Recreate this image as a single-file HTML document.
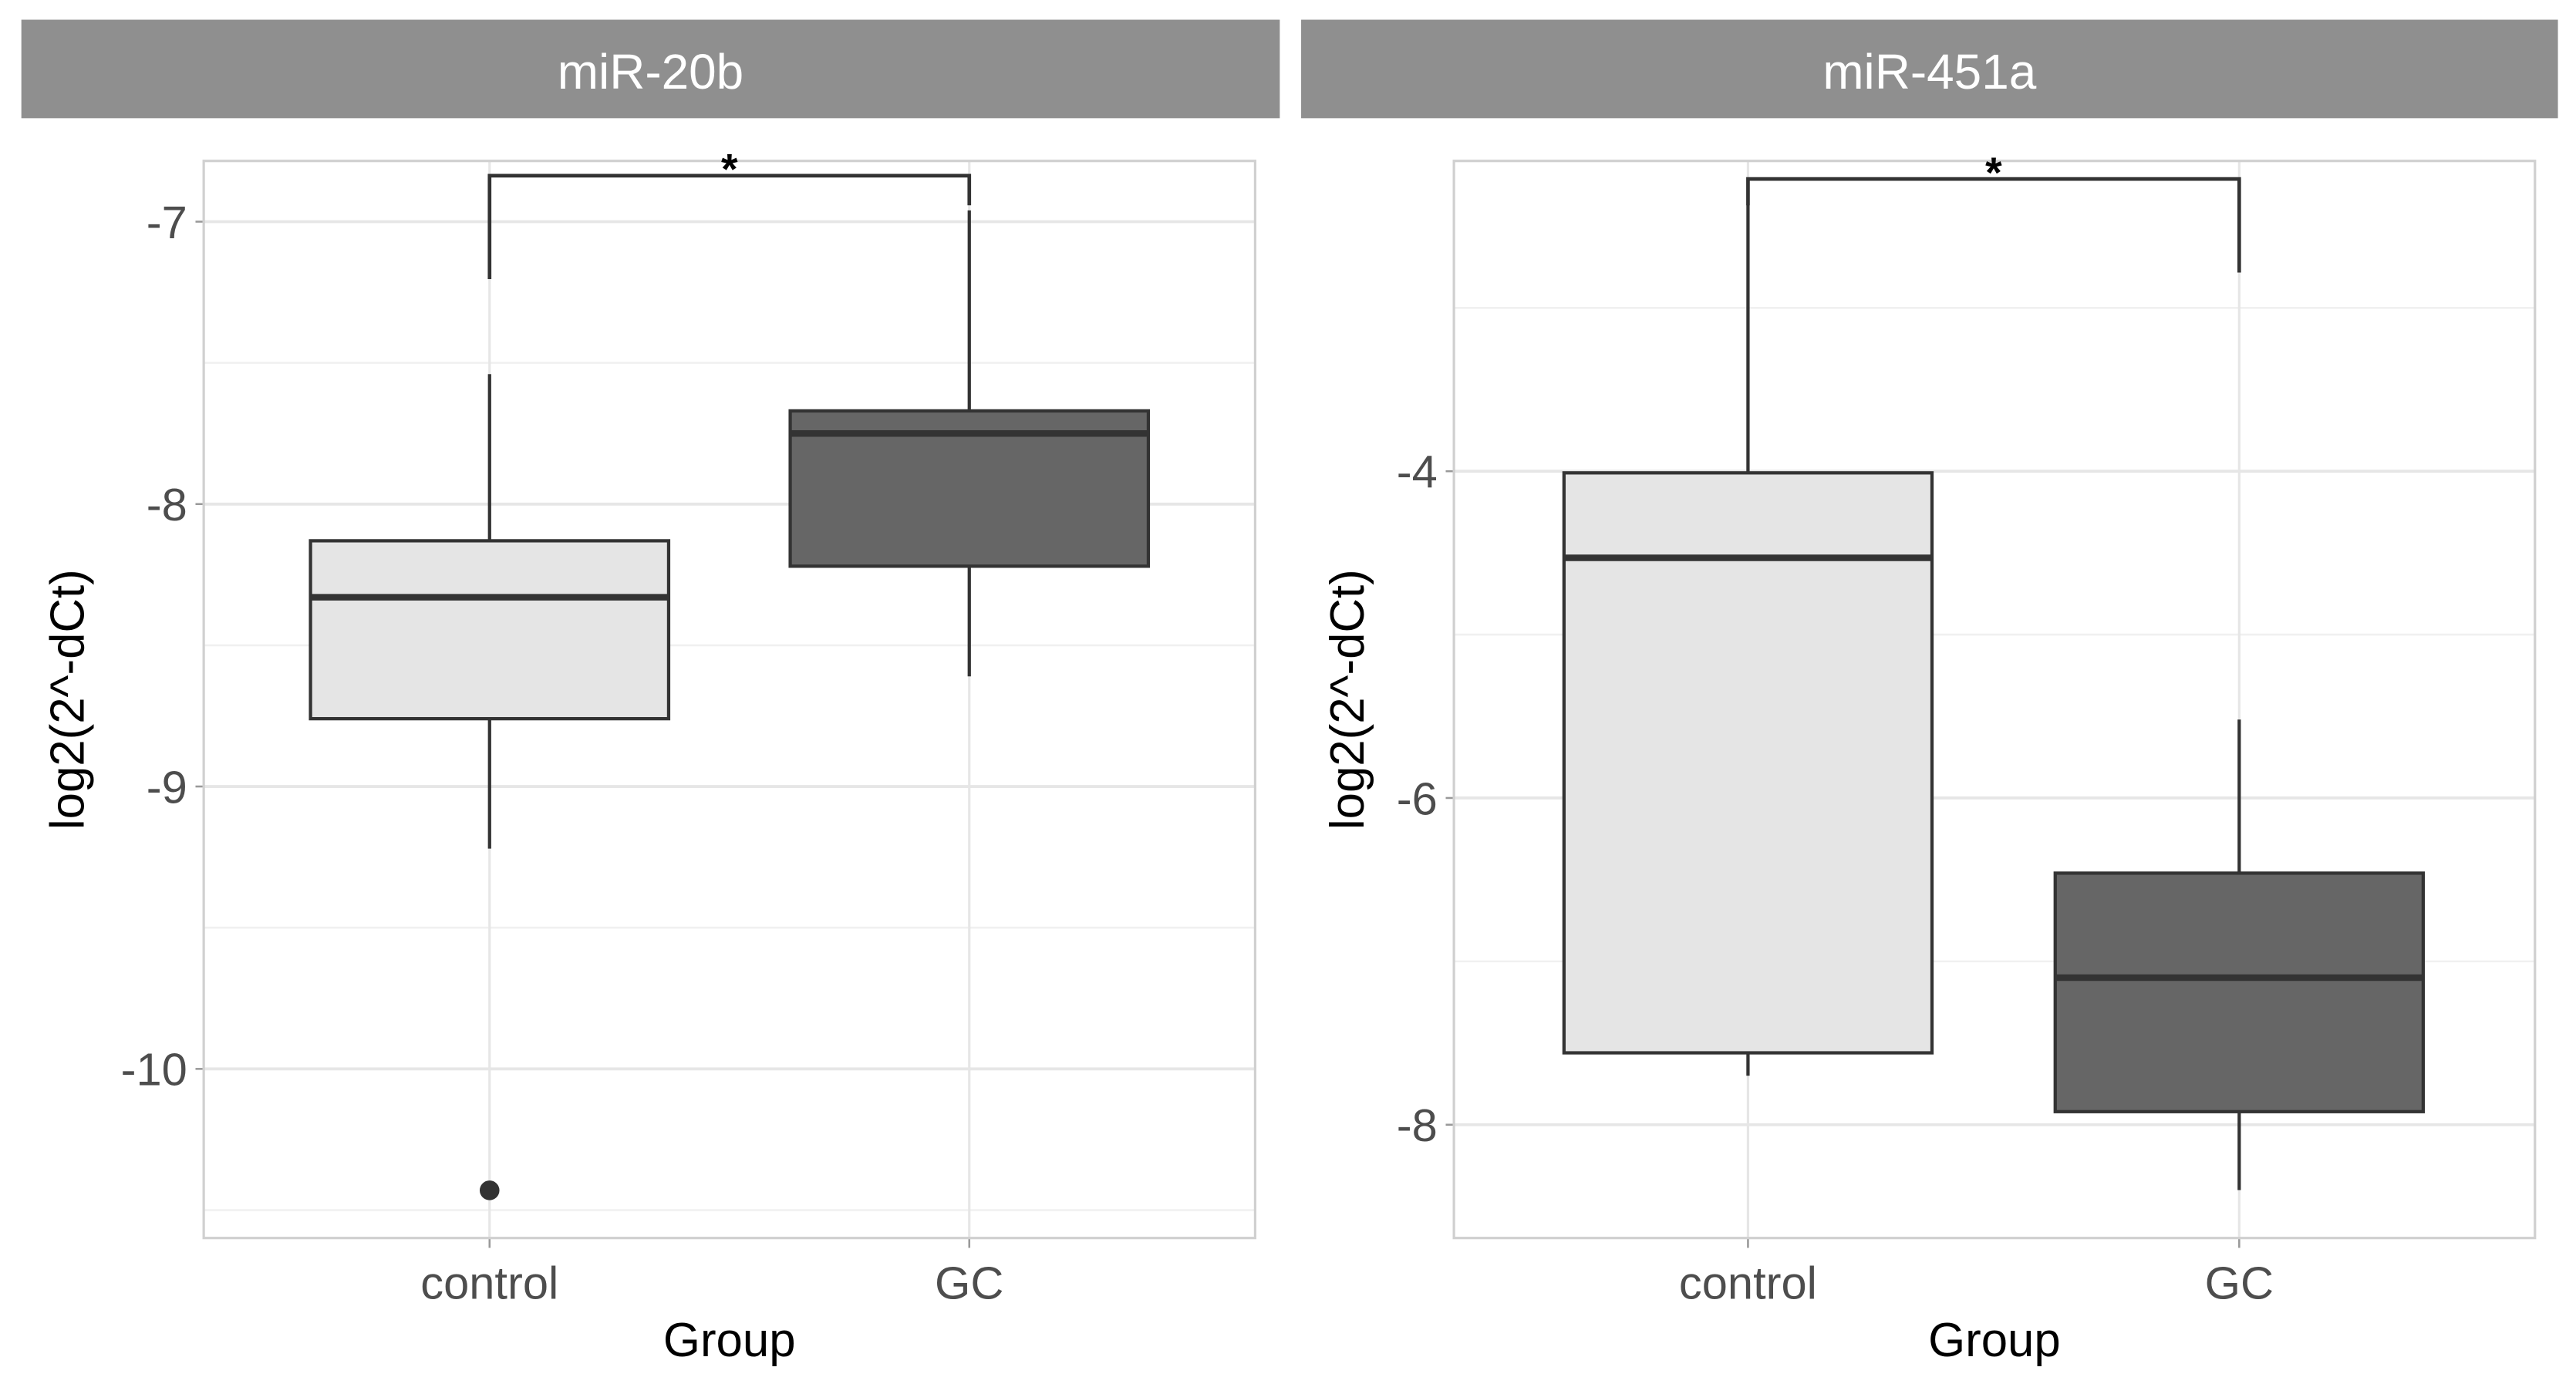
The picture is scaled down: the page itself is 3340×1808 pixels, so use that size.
<!DOCTYPE html>
<html><head><meta charset="utf-8"><style>
html,body{margin:0;padding:0;background:#fff}
svg{display:block}
text{font-family:"Liberation Sans",sans-serif}
</style></head><body>
<svg id="chart" width="3340" height="1808" viewBox="0 0 1568 849" preserveAspectRatio="none" xmlns="http://www.w3.org/2000/svg"></svg>
<script>
const groups = ["control", "GC"];
const p1Ticks = [-7, -8, -9, -10];
const p1Minor = [-7.5, -8.5, -9.5, -10.5];
const p1Control = [-9.22, -8.76, -8.33, -8.13, -7.54];
const p1GC = [-8.61, -8.22, -7.75, -7.67, -6.96];
const p1Outliers = [-10.43];
const p2Ticks = [-4, -6, -8];
const p2Minor = [-3, -5, -7];
const p2Control = [-7.70, -7.56, -4.53, -4.01, -2.37];
const p2GC = [-8.40, -7.92, -7.10, -6.46, -5.52];
const p2Outliers = [];

const NS = "http://www.w3.org/2000/svg";
const svg = document.getElementById("chart");
function el(tag, attrs, parent) {
  const e = document.createElementNS(NS, tag);
  for (const k in attrs) e.setAttribute(k, attrs[k]);
  (parent || svg).appendChild(e);
  return e;
}

function panel(cfg) {
  const g = el("g", {});
  
  
  const strip = el("rect", {x: cfg.sx, y: 12, width: cfg.sw, height: 60, fill: "#8f8f8f"}, g);
  
  
  const st = el("text", {x: cfg.sx + cfg.sw / 2, y: 54, "text-anchor": "middle", "font-size": 30, fill: "#fff"}, g);
  st.textContent = cfg.title;
  
  

  const L = cfg.L, R = cfg.R, T = 98, B = 754;
  const y = v => cfg.y0 + (v - cfg.v0) * cfg.k;
  const xs = [cfg.xc, cfg.xg];
  cfg.minor.forEach(v => { el("line", {x1: L, x2: R, y1: y(v), y2: y(v), stroke: "#f0f0f0", "stroke-width": 1.2}, g); });
  cfg.ticks.forEach(v => {
    const ln = el("line", {x1: L, x2: R, y1: y(v), y2: y(v), stroke: "#e6e6e6", "stroke-width": 1.8}, g);
    
    
    el("line", {x1: L - 5, x2: L, y1: y(v), y2: y(v), stroke: "#999", "stroke-width": 1.2}, g);
    const t = el("text", {x: L - 10, y: y(v) + 10, "text-anchor": "end", "font-size": 28, fill: "#4d4d4d"}, g);
    t.textContent = String(v);
    
    
  });
  xs.forEach((x, i) => {
    el("line", {x1: x, x2: x, y1: T, y2: B, stroke: "#e6e6e6", "stroke-width": 1.5}, g);
    el("line", {x1: x, x2: x, y1: B, y2: B + 6, stroke: "#999", "stroke-width": 1.2}, g);
    const t = el("text", {x: x, y: 791, "text-anchor": "middle", "font-size": 28, fill: "#4d4d4d"}, g);
    t.textContent = groups[i];
    
    
  });
  el("rect", {x: L, y: T, width: R - L, height: B - T, fill: "none", stroke: "#d0d0d0", "stroke-width": 1.5}, g);

  const series = [cfg.control, cfg.gc];
  const fills = ["#e5e5e5", "#666666"];
  series.forEach((s, i) => {
    const x = xs[i], hw = cfg.hw;
    const wl = el("line", {x1: x, x2: x, y1: y(s[4]), y2: y(s[3]), stroke: "#333", "stroke-width": 2}, g);
    
    
    const wl2 = el("line", {x1: x, x2: x, y1: y(s[1]), y2: y(s[0]), stroke: "#333", "stroke-width": 2}, g);
    
    
    const box = el("rect", {x: x - hw, y: y(s[3]), width: 2 * hw, height: y(s[1]) - y(s[3]), fill: fills[i], stroke: "#333", "stroke-width": 2}, g);
    
    
    const md = el("line", {x1: x - hw, x2: x + hw, y1: y(s[2]), y2: y(s[2]), stroke: "#333", "stroke-width": 4}, g);
    
    
  });
  cfg.outliers.forEach(v => {
    const c = el("circle", {cx: xs[0], cy: y(v), r: 6, fill: "#333"}, g);
    
    
  });
  const bg = el("g", {}, g);
  
  
  el("polyline", {points: `${xs[0]},${cfg.legC} ${xs[0]},${cfg.by} ${xs[1]},${cfg.by} ${xs[1]},${cfg.legG}`, fill: "none", stroke: "#333", "stroke-width": 2.2}, bg);
  const star = el("text", {x: (xs[0] + xs[1]) / 2, y: cfg.by + 5, "text-anchor": "middle", "font-size": 26, "font-weight": "bold", fill: "#000"}, bg);
  star.textContent = "*";

  const yt = el("text", {transform: `translate(${cfg.ytx},426) rotate(-90)`, "text-anchor": "middle", "font-size": 29, fill: "#000"}, g);
  yt.textContent = "log2(2^-dCt)";
  
  
  const xt = el("text", {x: (L + R) / 2, y: 826, "text-anchor": "middle", "font-size": 29, fill: "#000"}, g);
  xt.textContent = "Group";
  
  
}

panel({name: "mir-20b", title: "miR-20b", sx: 13, sw: 766, L: 124, R: 764, xc: 298, xg: 590, hw: 109,
  y0: 135, v0: -7, k: -172, ticks: p1Ticks, minor: p1Minor, control: p1Control, gc: p1GC, outliers: p1Outliers,
  by: 107, legC: 170, legG: 125, ytx: 51});
panel({name: "mir-451a", title: "miR-451a", sx: 792, sw: 765, L: 885, R: 1543, xc: 1064, xg: 1363, hw: 112,
  y0: 287, v0: -4, k: -99.5, ticks: p2Ticks, minor: p2Minor, control: p2Control, gc: p2GC, outliers: p2Outliers,
  by: 109, legC: 125, legG: 166, ytx: 830});
</script>
</body></html>
